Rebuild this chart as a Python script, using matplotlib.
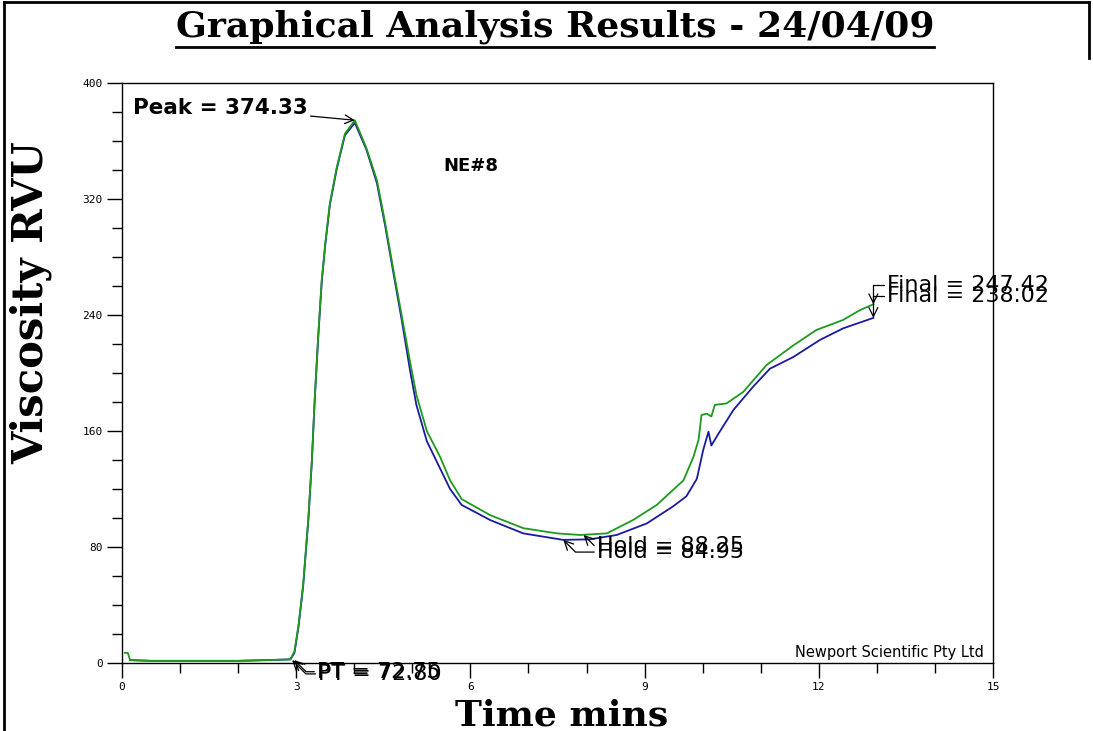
import numpy as np
import matplotlib
matplotlib.use('Agg')
import matplotlib.pyplot as plt
from matplotlib.lines import Line2D

# time (mins) and viscosity (RVU)
green_t = [0.05, 0.10, 0.14, 0.5, 1.0, 1.5, 2.0, 2.5, 2.9, 2.97, 3.04, 3.12, 3.21, 3.27,
           3.32, 3.38, 3.44, 3.50, 3.58, 3.70, 3.84, 4.01, 4.21, 4.39, 4.53, 4.67, 4.82,
           4.96, 5.07, 5.25, 5.48, 5.65, 5.85, 6.34, 6.91, 7.49, 7.89, 8.35, 8.80, 9.21,
           9.67, 9.84, 9.93, 9.98, 10.07, 10.15, 10.21, 10.41, 10.70, 11.10, 11.56,
           11.96, 12.42, 12.71, 12.94]
green_v = [7, 7, 2, 1.5, 1.5, 1.5, 1.5, 2, 2.5, 8, 26, 54, 100, 140, 183, 226, 264, 289,
           317, 342, 365, 374.3, 355, 333, 304, 272, 239, 208, 185, 160, 142, 126, 113,
           102, 93, 89.4, 88.3, 89.4, 98.6, 109, 126, 142, 154, 171, 172, 170, 178, 179,
           187, 205.5, 219, 229.7, 236.6, 243.4, 247.4]

blue_t = [0.14, 0.5, 1.0, 1.5, 2.0, 2.5, 2.9, 2.97, 3.04, 3.12, 3.21, 3.27, 3.32, 3.38,
          3.44, 3.50, 3.58, 3.70, 3.84, 4.01, 4.21, 4.39, 4.53, 4.67, 4.82, 4.96, 5.07,
          5.25, 5.48, 5.65, 5.85, 6.34, 6.91, 7.60, 8.06, 8.52, 9.04, 9.49, 9.72, 9.90,
          10.01, 10.10, 10.15, 10.27, 10.53, 10.87, 11.16, 11.56, 12.02, 12.42, 12.94]
blue_v = [2, 1.5, 1.5, 1.5, 1.5, 2, 2.5, 7, 25, 53, 99, 139, 182, 225, 263, 288, 316,
          341, 364, 372.5, 354, 331, 302, 270, 236, 202, 178, 153, 134, 120, 109, 98.6,
          89.4, 84.9, 85.3, 88.3, 96.3, 108, 115, 127, 147, 159.5, 150, 158, 174.5,
          190.6, 203, 211, 222.8, 230.8, 238.0]

x_ticks = [0, 3, 6, 9, 12, 15]
y_ticks = [0, 80, 160, 240, 320, 400]

fig = plt.figure(figsize=(10.93, 7.31), dpi=100)
ax = fig.add_axes([0.1116, 0.093, 0.7969, 0.7935])

ax.plot(blue_t, blue_v, color='#1a1aa0', lw=1.3)
ax.plot(green_t, green_v, color='#1e9a1e', lw=1.3)

ax.set_xlim(0, 15)
ax.set_ylim(0, 400)
ax.set_xticks(x_ticks)
ax.set_yticks(y_ticks)
ax.set_xticks(np.arange(0, 16, 1), minor=True)
ax.set_yticks(np.arange(0, 401, 20), minor=True)
ax.tick_params(which='major', direction='out', length=11, width=1, labelsize=8,
               pad=3)
ax.tick_params(which='minor', direction='out', length=7, width=1)
for lab in ax.get_xticklabels() + ax.get_yticklabels():
    lab.set_family('DejaVu Sans Mono')
for sp in ax.spines.values():
    sp.set_linewidth(1)

serif = ['DejaVu Serif']
ax.set_xlabel('Time mins', fontsize=26, fontweight='bold', family=serif)
ax.set_ylabel('Viscosity RVU', fontsize=30, fontweight='bold', family=serif)
ax.xaxis.set_label_coords(0.505, -0.062)
ax.yaxis.set_label_coords(-0.080, 0.622)

ax.text(6.0, 343, 'NE#8', fontsize=13, fontweight='bold', ha='center', va='center')
ax.text(14.85, 2, 'Newport Scientific Pty Ltd', fontsize=10.5, ha='right', va='bottom')

arrow = dict(arrowstyle='->', color='black', lw=0.9, shrinkA=0, shrinkB=0)
fs = 16

ax.annotate('Peak = 374.33', xy=(4.01, 374.3), xytext=(0.19, 383), fontsize=15.5,
            fontweight='bold', va='center', ha='left', arrowprops=arrow,
            annotation_clip=False)

ax.annotate('Hold = 88.25', xy=(7.95, 88.3), xytext=(8.18, 80.5), fontsize=fs,
            va='center', ha='left',
            arrowprops=dict(arrow, connectionstyle='angle,angleA=0,angleB=-45'))
ax.annotate('Hold = 84.95', xy=(7.60, 84.9), xytext=(8.18, 76.5), fontsize=fs,
            va='center', ha='left',
            arrowprops=dict(arrow, connectionstyle='angle,angleA=0,angleB=-45'))

ax.annotate('PT = 72.75', xy=(2.97, 2), xytext=(3.36, -6), fontsize=fs,
            va='center', ha='left', annotation_clip=False,
            arrowprops=dict(arrow, connectionstyle='angle,angleA=0,angleB=-45'))
ax.annotate('PT = 72.80', xy=(2.93, 2), xytext=(3.38, -7.5), fontsize=fs,
            va='center', ha='left', annotation_clip=False,
            arrowprops=dict(arrow, connectionstyle='angle,angleA=0,angleB=-45'))

ax.annotate('Final = 247.42', xy=(12.94, 247.4), xytext=(13.17, 260.7), fontsize=fs,
            va='center', ha='left', annotation_clip=False,
            arrowprops=dict(arrow, connectionstyle='angle,angleA=0,angleB=90'))
ax.annotate('Final = 238.02', xy=(12.94, 238.0), xytext=(13.17, 253.0), fontsize=fs,
            va='center', ha='left', annotation_clip=False,
            arrowprops=dict(arrow, connectionstyle='angle,angleA=0,angleB=90'))

title = fig.text(0.508, 0.963, 'Graphical Analysis Results - 24/04/09', fontsize=26,
                 fontweight='bold', family=serif, ha='center', va='center')

# underline the title
fig.canvas.draw()
bb = title.get_window_extent().transformed(fig.transFigure.inverted())
fig.add_artist(Line2D([bb.x0, bb.x1], [bb.y0 - 0.004, bb.y0 - 0.004], color='black',
                      lw=2, transform=fig.transFigure))

# page border
fig.add_artist(Line2D([0.004, 0.004], [0.0, 0.997], color='black', lw=2,
                      transform=fig.transFigure))
fig.add_artist(Line2D([0.004, 0.996], [0.997, 0.997], color='black', lw=2,
                      transform=fig.transFigure))
fig.add_artist(Line2D([0.996, 0.996], [0.997, 0.92], color='black', lw=2,
                      transform=fig.transFigure))

fig.savefig('out.png', dpi=100)
